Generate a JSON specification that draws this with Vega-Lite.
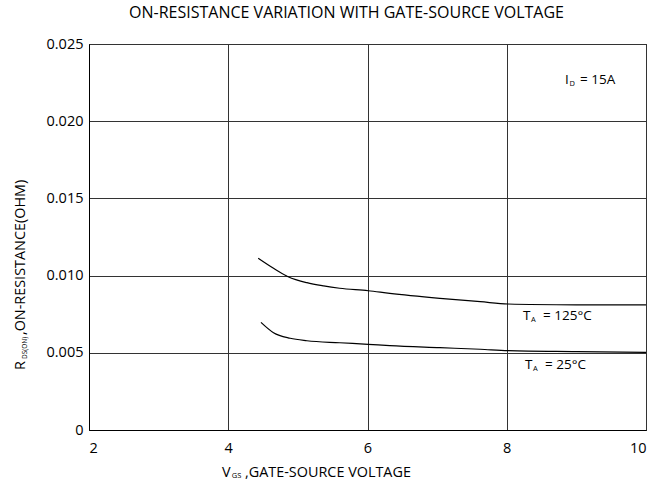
{
  "$schema": "https://vega.github.io/schema/vega-lite/v6.json",
  "width": 557,
  "height": 386,
  "autosize": {"type": "none"},
  "padding": {"left": 89, "top": 44, "right": 19, "bottom": 58},
  "background": "white",
  "title": {
    "text": "ON-RESISTANCE VARIATION WITH GATE-SOURCE VOLTAGE",
    "font": "Open Sans",
    "fontSize": 16,
    "fontWeight": "normal",
    "color": "black",
    "anchor": "middle",
    "dx": -21,
    "offset": 15
  },
  "config": {
    "view": {"stroke": "black", "strokeWidth": 1},
    "font": "Open Sans",
    "axis": {
      "labelFont": "Open Sans",
      "labelFontSize": 14.5,
      "labelColor": "black",
      "domainColor": "black",
      "gridColor": "#333333",
      "gridOpacity": 1,
      "gridWidth": 1,
      "ticks": false
    }
  },
  "datasets": {
    "curves": [
      {"x": 4.43, "y": 0.01112, "series": "125C"},
      {"x": 4.65, "y": 0.01047, "series": "125C"},
      {"x": 4.86, "y": 0.00993, "series": "125C"},
      {"x": 5.13, "y": 0.00954, "series": "125C"},
      {"x": 5.37, "y": 0.00933, "series": "125C"},
      {"x": 5.6, "y": 0.00918, "series": "125C"},
      {"x": 6.01, "y": 0.00902, "series": "125C"},
      {"x": 6.32, "y": 0.00885, "series": "125C"},
      {"x": 7.04, "y": 0.00853, "series": "125C"},
      {"x": 7.62, "y": 0.00831, "series": "125C"},
      {"x": 8.02, "y": 0.00816, "series": "125C"},
      {"x": 9.0, "y": 0.00811, "series": "125C"},
      {"x": 10.0, "y": 0.0081, "series": "125C"},
      {"x": 4.47, "y": 0.00697, "series": "25C"},
      {"x": 4.65, "y": 0.0063, "series": "25C"},
      {"x": 4.89, "y": 0.00594, "series": "25C"},
      {"x": 5.13, "y": 0.00578, "series": "25C"},
      {"x": 5.6, "y": 0.00565, "series": "25C"},
      {"x": 6.01, "y": 0.00555, "series": "25C"},
      {"x": 6.32, "y": 0.00546, "series": "25C"},
      {"x": 7.04, "y": 0.00533, "series": "25C"},
      {"x": 7.62, "y": 0.00523, "series": "25C"},
      {"x": 8.02, "y": 0.00514, "series": "25C"},
      {"x": 9.0, "y": 0.00508, "series": "25C"},
      {"x": 10.0, "y": 0.00503, "series": "25C"}
    ],
    "labels": [
      {"x": 8.234, "y": 0.00738, "label": "T"},
      {"x": 8.521, "y": 0.00738, "label": "= 125°C"},
      {"x": 8.262, "y": 0.00421, "label": "T"},
      {"x": 8.549, "y": 0.00421, "label": "= 25°C"},
      {"x": 8.837, "y": 0.02267, "label": "I"},
      {"x": 9.052, "y": 0.02267, "label": "= 15A"}
    ],
    "xtitle": [
      {"x": 3.91, "y": -0.002785, "label": "V"},
      {"x": 4.241, "y": -0.002785, "label": ",GATE-SOURCE VOLTAGE"}
    ],
    "subs": [
      {"x": 8.35, "y": 0.00712, "label": "A"},
      {"x": 8.377, "y": 0.00395, "label": "A"},
      {"x": 8.9, "y": 0.02241, "label": "D"},
      {"x": 4.05, "y": -0.00298, "label": "GS"}
    ],
    "ytitle": [
      {"x": 1.03, "y": 0.00389, "label": "R"},
      {"x": 1.03, "y": 0.00615, "label": ",ON-RESISTANCE(OHM)"}
    ],
    "ytitlesub": [
      {"x": 1.087, "y": 0.0046, "label": "DS(ON)"}
    ]
  },
  "layer": [
    {
      "data": {"name": "curves"},
      "mark": {"type": "line", "color": "black", "strokeWidth": 1.2, "interpolate": "monotone"},
      "encoding": {
        "x": {
          "field": "x", "type": "quantitative",
          "scale": {"domain": [2, 10], "nice": false, "zero": false},
          "axis": {"values": [2, 4, 6, 8, 10], "format": "d", "grid": true, "title": null, "labelPadding": 11, "domain": true}
        },
        "y": {
          "field": "y", "type": "quantitative",
          "scale": {"domain": [0, 0.025], "nice": false},
          "axis": {
            "values": [0, 0.005, 0.01, 0.015, 0.02, 0.025],
            "grid": true, "title": null, "labelPadding": 6, "domain": true,
            "labelExpr": "datum.value == 0 ? '0' : format(datum.value, '.3f')"
          }
        },
        "detail": {"field": "series"}
      }
    },
    {
      "data": {"name": "labels"},
      "mark": {"type": "text", "align": "left", "baseline": "middle", "fontSize": 13.5, "font": "Open Sans", "color": "black"},
      "encoding": {
        "x": {"field": "x", "type": "quantitative", "axis": {"title": null}},
        "y": {"field": "y", "type": "quantitative", "axis": {"title": null}},
        "text": {"field": "label"}
      }
    },
    {
      "data": {"name": "xtitle"},
      "mark": {"type": "text", "align": "left", "baseline": "middle", "fontSize": 14.4, "font": "Open Sans", "color": "black"},
      "encoding": {
        "x": {"field": "x", "type": "quantitative", "axis": {"title": null}},
        "y": {"field": "y", "type": "quantitative", "axis": {"title": null}},
        "text": {"field": "label"}
      }
    },
    {
      "data": {"name": "subs"},
      "mark": {"type": "text", "align": "left", "baseline": "middle", "fontSize": 7.5, "font": "Open Sans", "color": "black"},
      "encoding": {
        "x": {"field": "x", "type": "quantitative", "axis": {"title": null}},
        "y": {"field": "y", "type": "quantitative", "axis": {"title": null}},
        "text": {"field": "label"}
      }
    },
    {
      "data": {"name": "ytitle"},
      "mark": {"type": "text", "align": "left", "baseline": "middle", "angle": 270, "fontSize": 14.4, "font": "Open Sans", "color": "black"},
      "encoding": {
        "x": {"field": "x", "type": "quantitative", "axis": {"title": null}},
        "y": {"field": "y", "type": "quantitative", "axis": {"title": null}},
        "text": {"field": "label"}
      }
    },
    {
      "data": {"name": "ytitlesub"},
      "mark": {"type": "text", "align": "left", "baseline": "middle", "angle": 270, "fontSize": 6.5, "font": "Open Sans", "color": "black"},
      "encoding": {
        "x": {"field": "x", "type": "quantitative", "axis": {"title": null}},
        "y": {"field": "y", "type": "quantitative", "axis": {"title": null}},
        "text": {"field": "label"}
      }
    }
  ]
}
